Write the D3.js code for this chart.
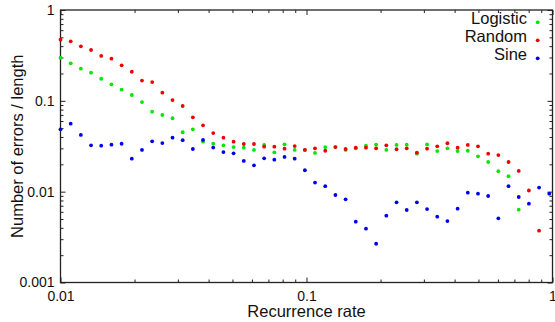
<!DOCTYPE html>
<html>
<head>
<meta charset="utf-8">
<script src="https://cdn.jsdelivr.net/npm/d3@7"></script>
<style>
  html, body { margin: 0; padding: 0; background: #fff; }
  svg { display: block; font-family: "Liberation Sans", Arial, sans-serif; }
</style>
</head>
<body>
<div id="chart"></div>
<script>
// recurrence rate for every sample
const rates = [0.01, 0.011, 0.0121, 0.01331, 0.01464, 0.01611, 0.01772, 0.01949, 0.02144, 0.02358,
  0.02594, 0.02853, 0.03138, 0.03452, 0.03797, 0.04177, 0.04595, 0.05054, 0.0556, 0.06116,
  0.06728, 0.074, 0.0814, 0.08954, 0.0985, 0.1083, 0.1192, 0.1311, 0.1442, 0.1586,
  0.1745, 0.1919, 0.2111, 0.2323, 0.2555, 0.281, 0.3091, 0.34, 0.374, 0.4114,
  0.4526, 0.4979, 0.5476, 0.6024, 0.6626, 0.7289, 0.8018, 0.882, 0.9702];

const logistic = [0.298, 0.259, 0.226, 0.204, 0.175, 0.152, 0.133, 0.116, 0.097, 0.0759,
  0.0698, 0.0643, 0.0451, 0.0486, 0.0355, 0.0337, 0.0324, 0.031, 0.0305, 0.0288,
  0.0327, 0.0271, 0.0332, 0.0288, 0.0288, 0.0267, 0.031, 0.031, 0.0288, 0.03,
  0.0321, 0.0329, 0.0288, 0.0327, 0.0329, 0.0262, 0.0331, 0.028, 0.03, 0.028,
  0.0282, 0.0245, 0.0212, 0.0168, 0.0148, 0.00633, null, null, null];

const random = [0.471, 0.452, 0.398, 0.363, 0.312, 0.291, 0.246, 0.209, 0.167, 0.161,
  0.123, 0.102, 0.0877, 0.0659, 0.0537, 0.0442, 0.0393, 0.0355, 0.0335, 0.0335,
  0.0313, 0.0313, 0.0297, 0.0318, 0.0288, 0.03, 0.0282, 0.031, 0.0295, 0.0305,
  0.0305, 0.03, 0.0324, 0.0293, 0.03, 0.0269, 0.0297, 0.0316, 0.0341, 0.0305,
  0.0327, 0.0316, 0.0262, 0.0253, 0.0212, 0.0169, 0.0103, 0.00372, null];

const sine = [0.0486, 0.056, 0.0421, 0.0324, 0.0321, 0.0329, 0.0337, 0.0231, 0.0288, 0.0358,
  0.0343, 0.0393, 0.0369, 0.0295, 0.0371, 0.0306, 0.0273, 0.0264, 0.0218, 0.0195,
  0.0233, 0.0225, 0.0241, 0.0231, 0.0172, 0.0126, 0.0115, 0.00919, 0.00824, 0.00467,
  0.00391, 0.00267, 0.00544, 0.00764, 0.00628, 0.00764, 0.00644, 0.0053, 0.00475, 0.00649,
  0.00975, 0.00951, 0.00896, 0.00509, 0.0115, 0.00873, 0.00737, 0.0111, 0.00951];

const seriesNames = ["Logistic", "Random", "Sine"];
const seriesColors = ["#00e800", "#f00000", "#0000f0"];
const xMajor = [0.01, 0.1, 1];
const yMajor = [0.001, 0.01, 0.1, 1];

const width = 555, height = 322;
const margin = {top: 10, right: 2.5, bottom: 39.5, left: 60.5};
const W = width - margin.left - margin.right;
const H = height - margin.top - margin.bottom;

const svg = d3.select("#chart").append("svg")
  .attr("width", width).attr("height", height);

const x = d3.scaleLog().domain([0.01, 1]).range([0, W]);
const y = d3.scaleLog().domain([0.001, 1]).range([H, 0]);

const g = svg.append("g").attr("transform", `translate(${margin.left},${margin.top})`);

// minor tick positions 2..9 in each decade
function minors(lo, hi) {
  const out = [];
  for (let d = lo; d < hi; d *= 10)
    for (let k = 2; k <= 9; k++) out.push(d * k);
  return out;
}
const xMinor = minors(0.01, 1);
const yMinor = minors(0.001, 1);

function styleAxis(sel) {
  sel.select(".domain").remove();
  sel.selectAll("line").attr("stroke", "#222").attr("stroke-width", 1);
  sel.selectAll("text").attr("fill", "#111").style("font-size", "14px")
    .style("font-family", "'Liberation Sans', Arial, sans-serif");
}
const fmt = v => String(v);

g.append("g").attr("transform", `translate(0,${H})`)
  .call(d3.axisBottom(x).tickValues(xMajor).tickFormat(fmt).tickSize(-5).tickPadding(9)).call(styleAxis);
g.append("g").attr("transform", `translate(0,${H})`)
  .call(d3.axisBottom(x).tickValues(xMinor).tickFormat("").tickSize(-3)).call(styleAxis);
g.append("g")
  .call(d3.axisTop(x).tickValues(xMajor).tickFormat("").tickSize(-5)).call(styleAxis);
g.append("g")
  .call(d3.axisTop(x).tickValues(xMinor).tickFormat("").tickSize(-3)).call(styleAxis);

g.append("g")
  .call(d3.axisLeft(y).tickValues(yMajor).tickFormat(fmt).tickSize(-5).tickPadding(6)).call(styleAxis);
g.append("g")
  .call(d3.axisLeft(y).tickValues(yMinor).tickFormat("").tickSize(-3)).call(styleAxis);
g.append("g").attr("transform", `translate(${W},0)`)
  .call(d3.axisRight(y).tickValues(yMajor).tickFormat("").tickSize(-5)).call(styleAxis);
g.append("g").attr("transform", `translate(${W},0)`)
  .call(d3.axisRight(y).tickValues(yMinor).tickFormat("").tickSize(-3)).call(styleAxis);

g.append("rect")
  .attr("width", W).attr("height", H)
  .attr("fill", "none").attr("stroke", "#222").attr("stroke-width", 1.3);

// points
const allSeries = [logistic, random, sine];
allSeries.forEach((vals, s) => {
  const pts = rates.map((r, i) => ({r, v: vals[i]})).filter(d => d.v != null);
  g.append("g").selectAll("circle")
    .data(pts)
    .enter().append("circle")
    .attr("cx", d => x(d.r))
    .attr("cy", d => y(d.v))
    .attr("r", 1.9)
    .attr("fill", seriesColors[s]);
});

// legend
const legend = svg.append("g");
seriesNames.forEach((name, i) => {
  legend.append("text")
    .attr("x", 527).attr("y", 24 + i * 18)
    .attr("text-anchor", "end")
    .style("font-size", "16.5px")
    .attr("fill", "#111")
    .text(name);
  legend.append("circle")
    .attr("cx", 537.7).attr("cy", 22.3 + i * 18)
    .attr("r", 1.9)
    .attr("fill", seriesColors[i]);
});

// axis titles
svg.append("text")
  .attr("x", margin.left + W / 2).attr("y", 316.5)
  .attr("text-anchor", "middle")
  .style("font-size", "16.5px")
  .attr("fill", "#111")
  .text("Recurrence rate");

svg.append("text")
  .attr("transform", `translate(22.5,${margin.top + H / 2}) rotate(-90)`)
  .attr("text-anchor", "middle")
  .style("font-size", "16.5px")
  .attr("fill", "#111")
  .text("Number of errors / length");
</script>
</body>
</html>
